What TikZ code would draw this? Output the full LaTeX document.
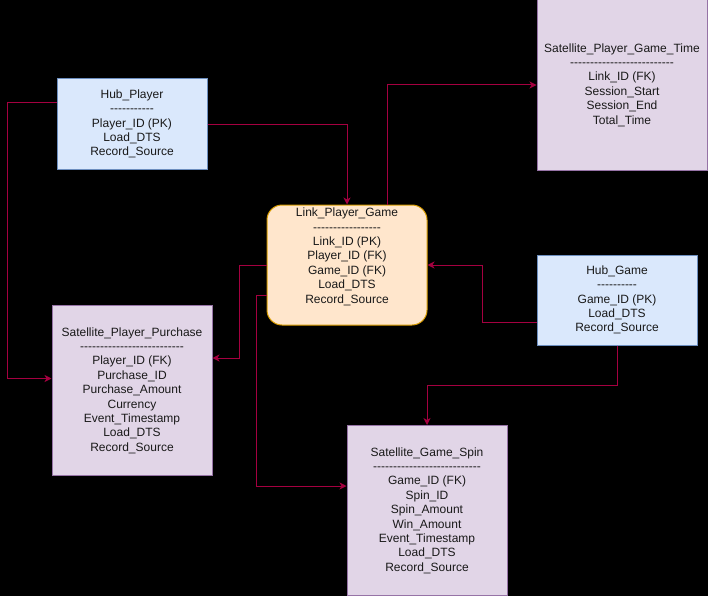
\documentclass[tikz,border=0pt]{standalone}
\usepackage{fontspec}
\setmainfont{Liberation Sans}[Ligatures=TeXOff]
\usepackage{tikz}
\usetikzlibrary{shapes, positioning, arrows.meta}
\usepackage{xcolor}
\definecolor{hubfill}{HTML}{DAE8FC}
\definecolor{hubline}{HTML}{6C8EBF}
\definecolor{satfill}{HTML}{E1D5E7}
\definecolor{satline}{HTML}{9673A6}
\definecolor{linkfill}{HTML}{FFE6CC}
\definecolor{linkline}{HTML}{D79B00}
\definecolor{relline}{HTML}{A50040}

\begin{document}
\begin{tikzpicture}[x=1pt, y=-1pt]

  \tikzstyle{table} = [rectangle, draw, line width=1pt, align=center, inner sep=0pt, text=black!90, font=\fontsize{12pt}{14.4pt}\selectfont];
  \tikzstyle{hub} = [table, fill=hubfill, draw=hubline, minimum height=90pt];
  \tikzstyle{sat} = [table, fill=satfill, draw=satline, minimum width=160pt, minimum height=170pt];
  \tikzstyle{lnk} = [table, fill=linkfill, draw=linkline, rounded corners=15pt, minimum width=160pt, minimum height=120pt];
  \tikzstyle{rel} = [draw=relline, line width=1pt, -{Stealth[length=7pt, width=7pt, inset=2pt]}];

  \useasboundingbox (0,0) rectangle (708,596);
  \fill[black] (0,0) rectangle (708,596);

  \node[hub, minimum width=150pt] (hubplayer) at (132,124)
    {Hub\_Player\\-----------\\Player\_ID (PK)\\Load\_DTS\\Record\_Source};
  \node[hub, minimum width=160pt] (hubgame) at (617,300)
    {Hub\_Game\\----------\\Game\_ID (PK)\\Load\_DTS\\Record\_Source};
  \node[lnk] (link) at (347,265)
    {Link\_Player\_Game\\-----------------\\Link\_ID (PK)\\Player\_ID (FK)\\Game\_ID (FK)\\Load\_DTS\\Record\_Source\\\strut};
  \node[sat, minimum width=170pt] (sattime) at (622,85)
    {Satellite\_Player\_Game\_Time\\--------------------------\\Link\_ID (FK)\\Session\_Start\\Session\_End\\Total\_Time};
  \node[sat] (satpurchase) at (132,390.5)
    {Satellite\_Player\_Purchase\\--------------------------\\Player\_ID (FK)\\Purchase\_ID\\Purchase\_Amount\\Currency\\Event\_Timestamp\\Load\_DTS\\Record\_Source};
  \node[sat] (satspin) at (427,510.5)
    {Satellite\_Game\_Spin\\---------------------------\\Game\_ID (FK)\\Spin\_ID\\Spin\_Amount\\Win\_Amount\\Event\_Timestamp\\Load\_DTS\\Record\_Source};

  \draw[rel] ([yshift=-1pt]hubplayer.east) -| (link.north);
  \draw[rel] ([yshift=21pt]hubplayer.west) -- ++(-49,0) |- ([yshift=12pt]satpurchase.west);
  \draw[rel] ([xshift=40pt]link.north) |- (sattime.west);
  \draw[rel] (link.west) -- ++(-27,0) |- ([yshift=32.5pt]satpurchase.east);
  \draw[rel] ([yshift=-30pt]link.west) -- ++(-10,0) |- ([yshift=24.5pt]satspin.west);
  \draw[rel] ([yshift=-22pt]hubgame.west) -- ++(-54,0) |- (link.east);
  \draw[rel] (hubgame.south) -- ++(0,40) -| (satspin.north);
\end{tikzpicture}
\end{document}
